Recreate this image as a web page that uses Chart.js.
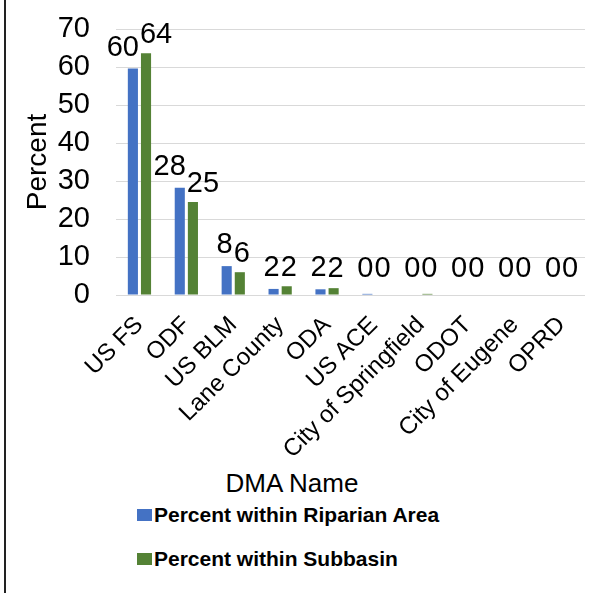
<!DOCTYPE html>
<html>
<head>
<meta charset="utf-8">
<script src="https://cdn.jsdelivr.net/npm/chart.js@4.4.0/dist/chart.umd.min.js"></script>
<style>
  html, body { margin: 0; padding: 0; background: #fff; }
  #wrap { position: relative; width: 597px; height: 593px; overflow: hidden; }
  #leftLine { position: absolute; left: 4px; top: 0; width: 2px; height: 593px; background: #222; }
  #dmaChart { position: absolute; left: 0; top: 0; }
  #xTitle { position: absolute; left: 192px; width: 200px; top: 467px; text-align: center;
    font-family: "Liberation Sans", Arial, sans-serif; font-size: 26px; line-height: 32px; color: #000; }
  .legendItem { position: absolute; left: 137px; height: 24px; display: flex; align-items: center;
    font-family: "Liberation Sans", Arial, sans-serif; font-weight: bold; font-size: 21px; color: #000; }
  .legendItem span.box { display: inline-block; width: 15px; height: 12px; margin-right: 2px; }
</style>
</head>
<body>
<div id="wrap">
  <canvas id="dmaChart" width="597" height="466"></canvas>
  <div id="leftLine"></div>
  <div id="xTitle"></div>
  <div class="legendItem" id="leg0" style="top:503px"><span class="box"></span><span class="txt"></span></div>
  <div class="legendItem" id="leg1" style="top:547px"><span class="box"></span><span class="txt"></span></div>
</div>
<script>
const categories = ["US FS", "ODF", "US BLM", "Lane County", "ODA", "US ACE",
  "City of Springfield", "ODOT", "City of Eugene", "OPRD"];
const seriesNames = ["Percent within Riparian Area", "Percent within Subbasin"];
const ripValues = [59.6, 28.2, 7.6, 1.6, 1.5, 0.3, 0, 0, 0, 0];
const subValues = [63.6, 24.5, 6.0, 2.3, 1.8, 0, 0.3, 0, 0, 0];
const seriesColors = ["#4472C4", "#548235"];
const xTitle = "DMA Name";
const yTitle = "Percent";

const FONT = "'Liberation Sans', Arial, sans-serif";

// draws the rounded value labels, blue ones to the left, green ones to the right
const valueLabels = {
  id: "valueLabels",
  afterDatasetsDraw(chart) {
    const ctx = chart.ctx;
    const axisY = chart.scales.y.getPixelForValue(0);
    ctx.save();
    ctx.font = "29px " + FONT;
    ctx.fillStyle = "#000";
    ctx.textBaseline = "alphabetic";
    chart.data.datasets.forEach((ds, i) => {
      const meta = chart.getDatasetMeta(i);
      meta.data.forEach((bar, j) => {
        const txt = String(Math.round(ds.data[j]));
        const half = bar.width / 2;
        let y = bar.y - (i === 0 ? 13 : 10);
        if (y > axisY - 18) y = axisY - 18;
        if (i === 0) {
          ctx.textAlign = "right";
          ctx.fillText(txt, bar.x + half + 1, y);
        } else {
          ctx.textAlign = "left";
          ctx.fillText(txt, bar.x - half - 1, y);
        }
      });
    });
    ctx.restore();
  }
};

const ctx = document.getElementById("dmaChart").getContext("2d");
const dmaChart = new Chart(ctx, {
  type: "bar",
  data: {
    labels: categories,
    datasets: [
      { label: seriesNames[0], data: ripValues, backgroundColor: seriesColors[0] },
      { label: seriesNames[1], data: subValues, backgroundColor: seriesColors[1] }
    ]
  },
  options: {
    responsive: false,
    animation: false,
    categoryPercentage: 0.56,
    barPercentage: 0.77,
    layout: { padding: { left: 21, right: 12, top: 29, bottom: 0 } },
    plugins: {
      legend: { display: false },
      tooltip: { enabled: false }
    },
    scales: {
      x: {
        grid: { display: false },
        border: { display: false },
        ticks: {
          color: "#000",
          font: { family: FONT, size: 24 },
          maxRotation: 45,
          minRotation: 45,
          padding: 8,
          autoSkip: false
        },
        afterFit(scale) { scale.height = 171; }
      },
      y: {
        min: 0,
        max: 70,
        ticks: {
          stepSize: 10,
          autoSkip: false,
          color: "#000",
          font: { family: FONT, size: 29 },
          padding: 4
        },
        grid: { color: "#d9d9d9", lineWidth: 1, drawTicks: true, tickLength: 22, tickColor: "rgba(0,0,0,0)" },
        border: { display: false },
        title: {
          display: true,
          text: yTitle,
          color: "#000",
          font: { family: FONT, size: 28 },
          padding: { top: 0, bottom: 0 }
        },
        afterFit(scale) { scale.width = 95; }
      }
    }
  },
  plugins: [valueLabels]
});

document.getElementById("xTitle").textContent = xTitle;
seriesNames.forEach((name, i) => {
  const el = document.getElementById("leg" + i);
  el.querySelector(".box").style.background = seriesColors[i];
  el.querySelector(".txt").textContent = name;
});
</script>
</body>
</html>
